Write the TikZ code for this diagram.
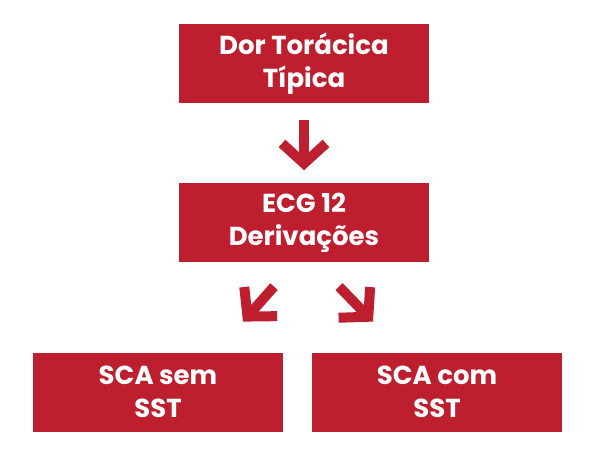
\documentclass[tikz,border=0pt]{standalone}
\usepackage{fontspec}
\setmainfont{Poppins}
\usetikzlibrary{positioning,calc,arrows.meta}
\definecolor{SCARed}{HTML}{BD1F2F}
\tikzset{
    block/.style = {fill=SCARed, text=white, rectangle,
        minimum height=79pt,
        minimum width=250pt, inner sep=0pt, align=center,
        font=\fontsize{26}{33}\selectfont\bfseries},
    bigarrow/.style={draw=SCARed, line width=10pt,
        -{Straight Barb[length=20pt,width=44pt]}}
}

\begin{document}
\begin{tikzpicture}[x=1pt,y=1pt]
        \useasboundingbox (0,0) rectangle (595,-456);
        \node [block] (dor) at (304,-63.5) {Dor Torácica\\Típica};
        \node [block, below=80pt of dor] (ecg) {ECG 12\\Derivações};
        \node [block, below=90pt of ecg, xshift=-146pt] (sem) {SCA sem\\SST};
        \node [block, below=90pt of ecg, xshift=133pt] (com) {SCA com\\SST};
        % arrows between the levels
        \draw [bigarrow, shorten <=17pt, shorten >=13pt] (dor) -- (ecg);
        \coordinate (l1) at ($(ecg.south)+(-30,-24)$);
        \coordinate (l2) at ($(sem.north)+(85,31)$);
        \coordinate (r1) at ($(ecg.south)+(35,-24)$);
        \coordinate (r2) at ($(com.north)+(-64,31)$);
        \draw [bigarrow] (l1) -- (l2);
        \draw [bigarrow] (r1) -- (r2);
    \end{tikzpicture}
\end{document}
